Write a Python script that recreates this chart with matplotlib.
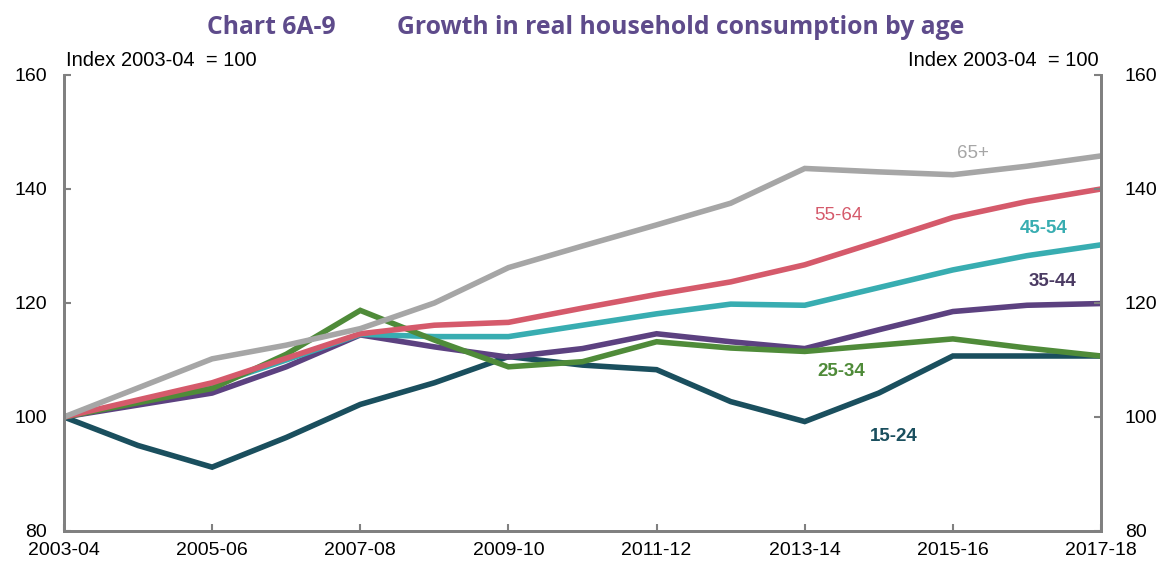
import matplotlib.pyplot as plt
import numpy as np

years = ["2003-04", "2004-05", "2005-06", "2006-07", "2007-08", "2008-09", "2009-10",
         "2010-11", "2011-12", "2012-13", "2013-14", "2014-15", "2015-16", "2016-17", "2017-18"]

age_15_24 = [100, 95.0, 91.2, 96.4, 102.2, 106.0, 110.6, 109.1, 108.3, 102.7, 99.2, 104.2, 110.7, 110.7, 110.7]
age_25_34 = [100, 102.5, 105.0, 111.0, 118.7, 113.5, 108.8, 109.7, 113.2, 112.1, 111.5, 112.6, 113.7, 112.1, 110.7]
age_35_44 = [100, 102.1, 104.2, 108.8, 114.4, 112.3, 110.5, 112.0, 114.6, 113.2, 112.0, 115.3, 118.5, 119.6, 119.9]
age_45_54 = [100, 102.7, 105.6, 110.0, 114.5, 114.1, 114.1, 116.1, 118.1, 119.8, 119.6, 122.7, 125.8, 128.3, 130.2]
age_55_64 = [100, 103.0, 106.0, 110.3, 114.6, 116.1, 116.6, 119.1, 121.5, 123.7, 126.7, 130.8, 135.0, 137.8, 140.0]
age_65 = [100, 105.1, 110.2, 112.6, 115.5, 120.0, 126.2, 130.0, 133.7, 137.5, 143.6, 143.0, 142.5, 144.0, 145.8]

series = [
    ("15-24", age_15_24, "#1a4f5e", (11.2, 96.5)),
    ("35-44", age_35_44, "#5c4180", (13.35, 123.7)),
    ("45-54", age_45_54, "#38adb1", (13.23, 133.0)),
    ("25-34", age_25_34, "#4f8b39", (10.49, 107.9)),
    ("55-64", age_55_64, "#d55a6b", (10.46, 135.3)),
    ("65+", age_65, "#a6a6a6", (12.27, 146.3)),
]

label_colors = {"35-44": "#4b3b63"}
arial = ['Liberation Sans', 'DejaVu Sans']

plt.rcParams['font.family'] = ['Liberation Sans Narrow', 'Liberation Sans', 'DejaVu Sans']

fig = plt.figure(figsize=(11.65, 5.65), dpi=100)
ax = fig.add_axes([0.0549, 0.0602, 0.8902, 0.8071])

x = np.arange(len(years))
for name, vals, color, pos in series:
    ax.plot(x, vals, color=color, lw=4, solid_joinstyle='miter')
    ax.text(pos[0], pos[1], name, color=label_colors.get(name, color), fontsize=13.5,
            ha='center', va='center', fontweight='bold' if name in ("15-24", "25-34", "45-54", "35-44") else 'normal')

ax.set_xlim(0, len(years) - 1)
ax.set_ylim(80, 160)
ax.set_xticks(x[::2])
ax.set_xticklabels(years[::2], fontsize=14, family=arial)
ax.set_yticks([80, 100, 120, 140, 160])
ax.tick_params(axis='both', direction='in', length=5, width=1.5, color='#808080', pad=8)
ax.tick_params(axis='y', labelsize=14, pad=12)
for lab in ax.get_yticklabels():
    lab.set_family(arial)

ax2 = ax.twinx()
ax2.set_ylim(80, 160)
ax2.set_yticks([80, 100, 120, 140, 160])
ax2.tick_params(axis='y', direction='in', length=5, width=1.5, color='#808080', labelsize=14, pad=17)
for lab in ax2.get_yticklabels():
    lab.set_family(arial)

for a in (ax, ax2):
    a.spines['top'].set_visible(False)
    for s in ('left', 'right', 'bottom'):
        a.spines[s].set_color('#808080')
        a.spines[s].set_linewidth(2)

ax.text(0.002, 1.012, "Index 2003-04  = 100", transform=ax.transAxes, fontsize=14.5,
        ha='left', va='bottom', family=arial)
ax.text(0.998, 1.012, "Index 2003-04  = 100", transform=ax.transAxes, fontsize=14.5,
        ha='right', va='bottom', family=arial)

fig.text(207 / 1165, 1 - 27 / 565, "Chart 6A-9", fontsize=17.8, fontweight='bold',
         color='#5e4b8b', ha='left', va='center', family=['Open Sans', 'DejaVu Sans'])
fig.text(397 / 1165, 1 - 27 / 565, "Growth in real household consumption by age", fontsize=17.8,
         fontweight='bold', color='#5e4b8b', ha='left', va='center', family=['Open Sans', 'DejaVu Sans'])

fig.savefig("out.png", dpi=100)
